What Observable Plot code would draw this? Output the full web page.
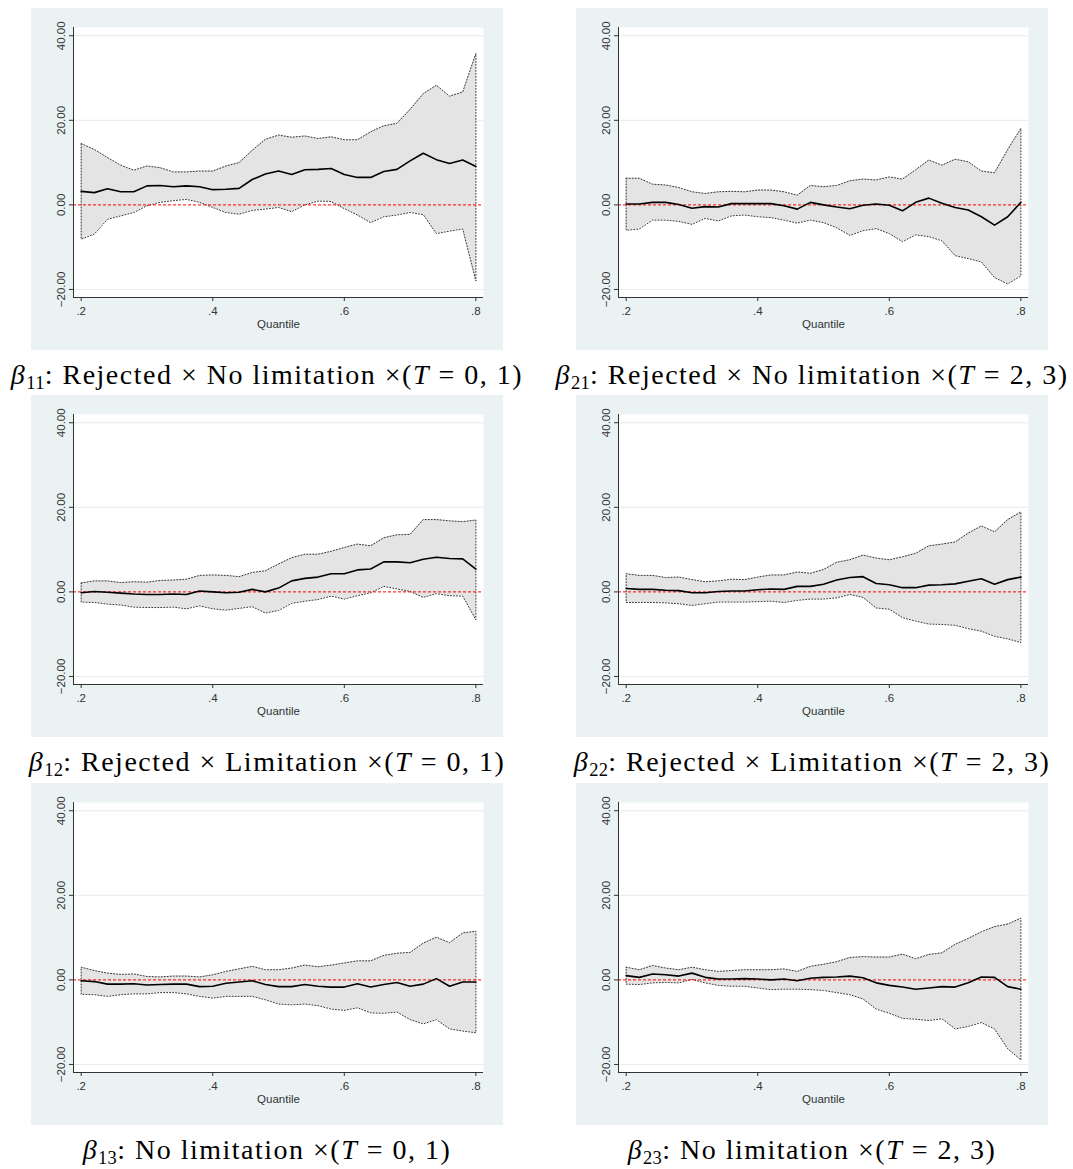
<!DOCTYPE html>
<html><head><meta charset="utf-8">
<script src="https://cdn.jsdelivr.net/npm/d3@7"></script>
<script src="https://cdn.jsdelivr.net/npm/@observablehq/plot@0.6"></script>
<style>
html,body{margin:0;padding:0;background:#fff}
body{width:1073px;height:1169px;position:relative;overflow:hidden}
.panel{position:absolute;width:472px;height:342px}
.panel svg{display:block}
.cap{position:absolute;width:600px;text-align:center;font-family:"Liberation Serif","Times New Roman",serif;font-size:28px;letter-spacing:1.5px;line-height:1;white-space:nowrap;color:#000}
.cap sub{font-size:0.66em;vertical-align:-0.28em;line-height:0;letter-spacing:0.3px}
</style></head><body>
<script>
const quantiles = [0.20,0.22,0.24,0.26,0.28,0.30,0.32,0.34,0.36,0.38,0.40,0.42,0.44,0.46,0.48,0.50,0.52,0.54,0.56,0.58,0.60,0.62,0.64,0.66,0.68,0.70,0.72,0.74,0.76,0.78,0.80];
const xTicks = [0.2,0.4,0.6,0.8];
const yTicks = [-20,0,20,40];
const gridValues = [-20,20,40];

const b11_est = [3.2,2.9,3.8,3.1,3.1,4.5,4.6,4.3,4.5,4.3,3.6,3.7,3.9,6.0,7.3,8.0,7.2,8.3,8.4,8.6,7.2,6.5,6.5,7.9,8.4,10.4,12.2,10.7,9.8,10.6,9.1];
const b11_hi  = [14.5,13.1,11.2,9.4,8.2,9.2,8.8,7.8,7.8,8.0,8.0,9.2,10.0,12.9,15.5,16.5,16.0,16.3,15.7,16.1,15.4,15.4,17.3,18.7,19.3,22.6,26.3,28.3,25.7,26.7,35.8];
const b11_lo  = [-8.1,-6.9,-3.4,-2.6,-1.8,-0.2,0.6,1.0,1.3,0.6,-0.6,-1.8,-2.2,-1.3,-1.0,-0.6,-1.6,0.0,0.9,0.8,-0.9,-2.4,-4.2,-2.8,-2.4,-1.8,-2.3,-6.8,-6.2,-5.7,-18.0];

const b21_est = [0.2,0.2,0.6,0.6,0.1,-0.8,-0.4,-0.5,0.3,0.3,0.3,0.3,-0.2,-1.0,0.6,0.0,-0.5,-0.9,-0.1,0.2,-0.1,-1.4,0.6,1.6,0.4,-0.6,-1.2,-2.8,-4.8,-2.8,0.6];
const b21_hi  = [6.3,6.3,4.9,4.7,4.1,3.1,2.7,3.1,3.2,3.1,3.5,3.5,3.1,2.3,4.6,4.3,4.6,5.7,6.1,5.9,6.6,6.1,8.3,10.6,9.4,10.8,10.2,8.0,7.6,13.1,18.1];
const b21_lo  = [-6.0,-5.7,-3.6,-3.6,-3.9,-4.6,-3.2,-3.8,-2.6,-2.4,-2.8,-3.0,-3.6,-4.3,-3.6,-4.2,-5.4,-7.2,-6.1,-5.6,-6.8,-8.7,-7.1,-7.5,-8.5,-12.0,-12.7,-13.5,-17.2,-18.7,-16.8];

const b12_est = [-0.2,0.1,-0.1,-0.3,-0.5,-0.6,-0.6,-0.5,-0.6,0.2,0.0,-0.2,-0.1,0.6,0.0,0.9,2.6,3.2,3.5,4.3,4.3,5.2,5.4,7.1,7.1,6.9,7.7,8.2,7.9,7.8,5.4];
const b12_hi  = [2.1,2.6,2.6,2.2,2.4,2.3,2.7,2.8,3.0,3.9,4.0,3.9,3.6,4.6,5.0,6.6,8.1,8.9,8.9,9.6,10.5,11.3,10.9,12.8,13.5,13.6,17.1,17.1,16.8,16.6,17.0];
const b12_lo  = [-2.4,-2.5,-2.9,-3.1,-3.6,-3.7,-3.7,-3.6,-4.0,-3.3,-4.0,-4.3,-3.9,-3.5,-5.0,-4.4,-2.7,-2.2,-1.8,-1.0,-1.7,-0.9,-0.2,1.3,0.7,0.1,-1.3,-0.4,-0.9,-1.0,-6.6];

const b22_est = [0.8,0.6,0.6,0.4,0.3,-0.2,-0.2,0.1,0.2,0.2,0.5,0.7,0.6,1.3,1.3,1.8,2.8,3.4,3.6,2.0,1.7,1.0,1.0,1.6,1.7,1.9,2.5,3.1,1.8,2.9,3.5];
const b22_hi  = [4.3,3.9,3.9,3.4,3.5,2.9,2.4,2.6,3.0,2.9,3.5,4.0,4.0,4.7,4.4,5.3,7.0,7.6,8.7,8.0,7.6,8.3,9.1,10.9,11.3,11.8,13.9,15.6,14.2,17.1,18.9];
const b22_lo  = [-2.5,-2.5,-2.5,-2.6,-2.8,-3.2,-2.8,-2.4,-2.4,-2.4,-2.3,-2.2,-2.5,-2.0,-1.7,-1.7,-1.4,-0.6,-1.3,-3.8,-4.1,-6.1,-6.9,-7.6,-7.7,-7.9,-8.7,-9.3,-10.5,-11.1,-12.0];

const b13_est = [-0.2,-0.4,-1.0,-1.0,-0.9,-1.2,-1.1,-1.0,-1.0,-1.6,-1.5,-0.8,-0.5,-0.2,-1.1,-1.6,-1.6,-1.1,-1.5,-1.7,-1.7,-0.9,-1.7,-1.1,-0.6,-1.5,-1.0,0.3,-1.5,-0.5,-0.5];
const b13_hi  = [3.0,2.2,1.6,1.3,1.4,0.8,0.7,0.9,0.9,0.7,1.2,2.0,2.6,3.2,2.4,2.4,2.8,3.5,3.1,3.5,4.0,4.5,4.5,5.8,6.3,6.5,8.7,10.1,8.8,11.1,11.5];
const b13_lo  = [-3.4,-3.5,-3.9,-3.5,-3.3,-3.3,-3.0,-3.0,-3.3,-3.9,-4.3,-3.9,-3.9,-3.9,-4.7,-5.7,-5.9,-5.7,-6.1,-6.9,-7.2,-6.6,-7.8,-7.9,-7.6,-9.4,-10.4,-9.4,-11.6,-12.1,-12.5];

const b23_est = [1.0,0.6,1.4,1.2,0.9,1.6,0.6,0.2,0.2,0.3,0.2,0.0,0.2,-0.2,0.4,0.6,0.7,0.9,0.5,-0.7,-1.3,-1.7,-2.2,-1.9,-1.6,-1.7,-0.7,0.7,0.6,-1.6,-2.2];
const b23_hi  = [3.0,2.4,3.4,2.8,2.4,3.0,2.4,2.0,2.2,2.4,2.4,2.4,2.6,2.0,3.2,3.7,4.3,5.3,5.5,5.4,5.4,6.1,5.0,6.0,6.4,8.4,9.8,11.4,12.6,13.2,14.6];
const b23_lo  = [-1.0,-1.1,-0.7,-0.6,-0.7,0.1,-0.7,-1.3,-1.5,-1.5,-1.9,-2.3,-2.2,-2.2,-2.3,-2.5,-3.0,-3.5,-4.5,-6.9,-7.9,-9.1,-9.3,-9.6,-9.2,-11.6,-11.0,-10.1,-11.6,-16.3,-18.9];

const captionSubs = ["11","21","12","22","13","23"];
const captionTexts = [
  "Rejected × No limitation ×(",
  "Rejected × No limitation ×(",
  "Rejected × Limitation ×(",
  "Rejected × Limitation ×(",
  "No limitation ×(",
  "No limitation ×("
];
const captionT = ["0, 1","2, 3","0, 1","2, 3","0, 1","2, 3"];

const series = [
  [b11_est,b11_lo,b11_hi],
  [b21_est,b21_lo,b21_hi],
  [b12_est,b12_lo,b12_hi],
  [b22_est,b22_lo,b22_hi],
  [b13_est,b13_lo,b13_hi],
  [b23_est,b23_lo,b23_hi]
];

const xDomain = [0.1883, 0.8116];
const yDomain = [-21.9, 41.95];
const colLeft = [31, 576];
const rowTop = [8, 395, 783];

series.forEach(([est, lo, hi], i) => {
  const col = i % 2, row = Math.floor(i / 2);
  const data = quantiles.map((q, j) => ({q, est: est[j], lo: lo[j], hi: hi[j]}));
  const outline = [
    ...data.map(d => ({q: d.q, v: d.hi})),
    ...data.slice().reverse().map(d => ({q: d.q, v: d.lo})),
    {q: data[0].q, v: data[0].hi}
  ];
  const chart = Plot.plot({
    width: 472,
    height: 342,
    marginLeft: 42,
    marginRight: 20,
    marginTop: 19,
    marginBottom: 53,
    style: {background: "#eaf2f3", fontFamily: "'Liberation Sans', Arial, sans-serif", fontSize: "11px", color: "#333"},
    x: {domain: xDomain},
    y: {domain: yDomain},
    marks: [
      Plot.frame({fill: "white", stroke: "none"}),
      Plot.gridY(gridValues, {stroke: "#e3ecee", strokeOpacity: 1, strokeWidth: 1}),
      Plot.areaY(data, {x: "q", y1: "lo", y2: "hi", fill: "#e4e4e4"}),
      Plot.line(outline, {x: "q", y: "v", stroke: "#333", strokeWidth: 1, strokeDasharray: "1,2", curve: "linear"}),
      Plot.ruleY([0], {stroke: "#f00", strokeWidth: 1, strokeDasharray: "3,2"}),
      Plot.line(data, {x: "q", y: "est", stroke: "#000", strokeWidth: 1.6}),
      Plot.ruleX([xDomain[0]], {stroke: "#333", strokeWidth: 1}),
      Plot.ruleY([yDomain[0]], {stroke: "#333", strokeWidth: 1}),
      Plot.axisY({ticks: yTicks, tickSize: 4, tickRotate: -90, stroke: "#333", fill: "#333", label: null, fontSize: 11.5,
                  tickFormat: d => (d < 0 ? "\u2212" : "") + Math.abs(d).toFixed(2)}),
      Plot.axisX({ticks: xTicks, tickSize: 4, stroke: "#333", fill: "#333", fontSize: 11.5,
                  tickFormat: d => d.toFixed(1).replace(/^0/, ""),
                  label: "Quantile", labelAnchor: "center", labelArrow: "none", labelOffset: 30})
    ]
  });
  const div = document.createElement("div");
  div.className = "panel";
  div.style.left = colLeft[col] + "px";
  div.style.top = rowTop[row] + "px";
  div.appendChild(chart);
  document.body.appendChild(div);

  const cap = document.createElement("div");
  cap.className = "cap";
  cap.style.left = (colLeft[col] + 236 - 300) + "px";
  cap.style.top = (rowTop[row] + 353) + "px";
  cap.innerHTML = `<i>β</i><sub>${captionSubs[i]}</sub>: ${captionTexts[i]}<i>T</i> = ${captionT[i]})`;
  document.body.appendChild(cap);
});
</script>
</body></html>
